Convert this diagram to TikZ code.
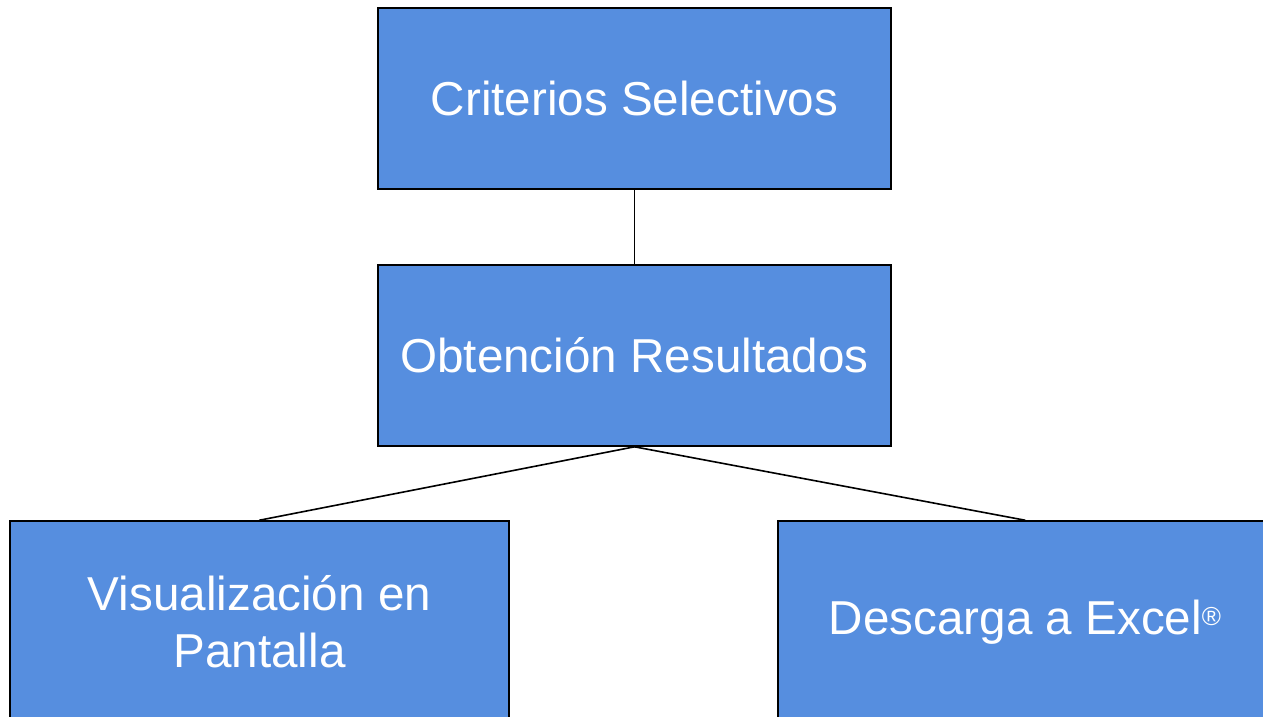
\documentclass[tikz,border=0pt]{standalone}
\usepackage{fontspec}
\setmainfont{Liberation Sans}
\definecolor{boxColor}{RGB}{86,142,223}

\tikzset{
  blockbox/.style={draw=black,fill=boxColor,line width=1.6pt,text=white,
    align=center,inner sep=0pt,font=\fontsize{47.6}{57}\selectfont},
  linkline/.style={draw=black,line width=1.6pt,line cap=round}
}

\begin{document}
\begin{tikzpicture}[x=1pt,y=1pt]
\path[use as bounding box,fill=white] (0,0) rectangle (1263,716);

\node[blockbox,minimum width=513,minimum height=181] (crit) at (634.5,617.5) {Criterios Selectivos};

\node[blockbox,minimum width=513,minimum height=181] (obt) at (634.5,360.5) {Obtención Resultados};

\node[blockbox,minimum width=499,minimum height=202] (vis) at (259.5,94) {Visualización en\\Pantalla};

\node[blockbox,minimum width=494,minimum height=202] (desc) at (1025,94) {Descarga a Excel\raisebox{9pt}{\fontsize{26}{26}\selectfont ®}};

\path[linkline] (crit.south) -- (obt.north);
\path[linkline] (obt.south) -- (vis.north);
\path[linkline] (obt.south) -- (desc.north);
\end{tikzpicture}
\end{document}
